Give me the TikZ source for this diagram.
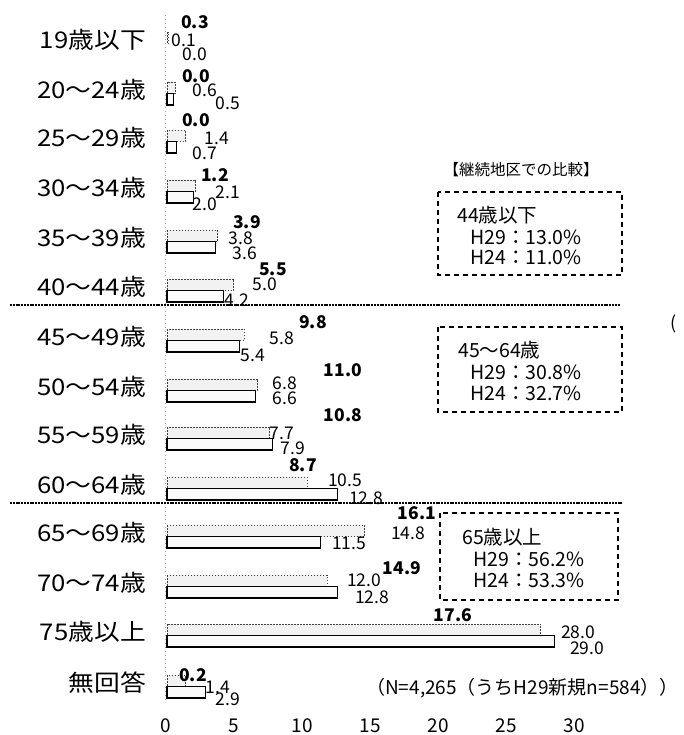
\documentclass[tikz,border=0pt]{standalone}
\usepackage{fontspec}
\setmainfont{Noto Sans CJK JP}
\newcommand{\wide}[1]{\scalebox{1.12}[1]{#1}}
\begin{document}
\begin{tikzpicture}[x=1pt,y=-1pt,
  cat/.style={anchor=east,inner sep=0pt,font=\fontsize{23}{23}\selectfont},
  lab/.style={inner sep=0pt,font=\fontsize{17.5}{17.5}\selectfont},
  labb/.style={inner sep=0pt,font=\fontsize{17.5}{17.5}\selectfont\bfseries},
  tick/.style={inner sep=0pt,font=\fontsize{19}{19}\selectfont},
  boxtxt/.style={anchor=west,inner sep=0pt,font=\fontsize{19.5}{19.5}\selectfont},
  upbar/.style={draw=black!75,fill=black!5,line width=0.9pt,dash pattern=on 1.6pt off 1.4pt},
  lowbar/.style={draw=black,fill=black!2,line width=1.1pt},
  sep/.style={line width=1.4pt,dash pattern=on 2pt off 0.8pt},
  grpbox/.style={draw=black,line width=1.1pt,dash pattern=on 5pt off 4pt}]
\useasboundingbox (0,0) rectangle (684,735);
\fill[white] (0,0) rectangle (684,735);
% vertical axis
\draw[gray!70,line width=0.8pt,dash pattern=on 1pt off 3pt] (165,15) -- (165,702);
% bars: c, v2 (upper), v3 (lower)
\foreach \c/\u/\l in {40/0.1/0.0, 90/0.6/0.5, 138/1.4/0.7, 188/2.1/2.0, 238/3.8/3.6, 287/5.0/4.2,
  337/5.8/5.4, 387/6.8/6.6, 435/7.7/7.9, 485/10.5/12.8, 533/14.8/11.5, 583/12.0/12.8,
  632/28.0/29.0, 683/1.4/2.9}{
  \pgfmathsetmacro{\xu}{167+13.35*\u}
  \pgfmathsetmacro{\xl}{167+13.35*\l}
  \ifdim\u pt>0pt \draw[upbar] (167,\c-8) rectangle (\xu,\c+3.5);\fi
  \ifdim\l pt>0pt \draw[lowbar] (167,\c+3.5) rectangle (\xl,\c+15);\fi
}
% separators
\draw[sep] (10,305) -- (620,305);
\draw[sep] (10,503) -- (622,503);
% category labels
\node[cat] (c1) at (146,40) {\wide{19歳以下}};
\node[cat] (c2) at (146,90) {\wide{20～24歳}};
\node[cat] (c3) at (146,138) {\wide{25～29歳}};
\node[cat] (c4) at (146,188) {\wide{30～34歳}};
\node[cat] (c5) at (146,238) {\wide{35～39歳}};
\node[cat] (c6) at (146,287) {\wide{40～44歳}};
\node[cat] (c7) at (146,337) {\wide{45～49歳}};
\node[cat] (c8) at (146,387) {\wide{50～54歳}};
\node[cat] (c9) at (146,435) {\wide{55～59歳}};
\node[cat] (c10) at (146,485) {\wide{60～64歳}};
\node[cat] (c11) at (146,533) {\wide{65～69歳}};
\node[cat] (c12) at (146,583) {\wide{70～74歳}};
\node[cat] (c13) at (146,632) {\wide{75歳以上}};
\node[cat] (c14) at (146,683) {\wide{無回答}};
% data labels
\node[labb] (a1) at (195,22) {0.3};  \node[lab] (b1) at (184,40) {0.1};  \node[lab] (d1) at (195,54) {0.0};
\node[labb] (a2) at (196,76) {0.0};  \node[lab] (b2) at (205,90) {0.6};  \node[lab] (d2) at (228,103) {0.5};
\node[labb] (a3) at (196,120) {0.0}; \node[lab] (b3) at (217,138) {1.4}; \node[lab] (d3) at (205,153) {0.7};
\node[labb] (a4) at (215,175) {1.2}; \node[lab] (b4) at (228,192) {2.1}; \node[lab] (d4) at (205,204) {2.0};
\node[labb] (a5) at (247,222) {3.9}; \node[lab] (b5) at (241,238) {3.8}; \node[lab] (d5) at (245,253) {3.6};
\node[labb] (a6) at (273,269) {5.5}; \node[lab] (b6) at (265,284) {5.0}; \node[lab] (d6) at (237,300) {4.2};
\node[labb] (a7) at (313,322) {9.8}; \node[lab] (b7) at (282,338) {5.8}; \node[lab] (d7) at (253,355) {5.4};
\node[labb] (a8) at (343,370) {11.0}; \node[lab] (b8) at (285,383) {6.8}; \node[lab] (d8) at (285,398) {6.6};
\node[labb] (a9) at (343,415) {10.8}; \node[lab] (b9) at (282,433) {7.7}; \node[lab] (d9) at (293,448) {7.9};
\node[labb] (a10) at (303,465) {8.7}; \node[lab] (b10) at (345,480) {10.5}; \node[lab] (d10) at (366,498) {12.8};
\node[labb] (a11) at (417,513) {16.1}; \node[lab] (b11) at (408,533) {14.8}; \node[lab] (d11) at (349,543) {11.5};
\node[labb] (a12) at (402,568) {14.9}; \node[lab] (b12) at (364,580) {12.0}; \node[lab] (d12) at (372,597) {12.8};
\node[labb] (a13) at (453,615) {17.6}; \node[lab] (b13) at (578,632) {28.0}; \node[lab] (d13) at (587,648) {29.0};
\node[labb] (a14) at (193,675) {0.2}; \node[lab] (b14) at (218,687) {1.4}; \node[lab] (d14) at (228,699) {2.9};
% ticks
\foreach \v/\n in {0/t0,5/t5,10/t10,15/t15,20/t20,25/t25,30/t30}{
  \node[tick] (\n) at ({166+13.6*\v},726) {\v};
}
% comparison title and boxes
\node[inner sep=0pt,font=\fontsize{15.5}{15.5}\selectfont] (ttl) at (521,170) {【継続地区での比較】};
\draw[grpbox] (438,192) rectangle (622,275);
\node[boxtxt] (g1) at (457,215) {44歳以下};
\node[boxtxt] (g1a) at (470,237) {H29：13.0\%};
\node[boxtxt] (g1b) at (470,257) {H24：11.0\%};
\draw[grpbox] (438,327) rectangle (622,412);
\node[boxtxt] (g2) at (458,350) {45～64歳};
\node[boxtxt] (g2a) at (470,372) {H29：30.8\%};
\node[boxtxt] (g2b) at (470,393) {H24：32.7\%};
\draw[grpbox] (440,513) rectangle (618,600);
\node[boxtxt] (g3) at (462,537) {65歳以上};
\node[boxtxt] (g3a) at (473,559) {H29：56.2\%};
\node[boxtxt] (g3b) at (473,580) {H24：53.3\%};
% footnote
\node[anchor=west,inner sep=0pt,font=\fontsize{19}{19}\selectfont] (fn) at (366,688) {（N=4,265（うちH29新規n=584））};
\node[anchor=west,inner sep=0pt,font=\fontsize{18}{18}\selectfont] (unit) at (670,324) {(};
\end{tikzpicture}
\end{document}
